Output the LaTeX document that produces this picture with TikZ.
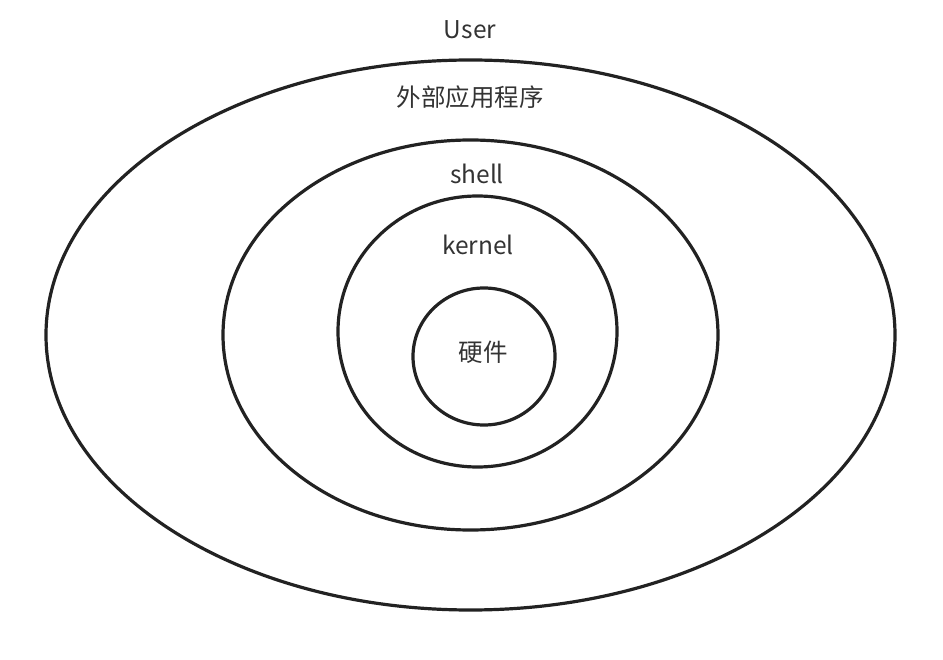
\documentclass[tikz,border=0pt]{standalone}
\usepackage{fontspec}
\setmainfont{Noto Sans CJK SC}
\usetikzlibrary{shapes.geometric}
\definecolor{ln}{HTML}{222222}
\definecolor{tx}{HTML}{333333}
\begin{document}
\begin{tikzpicture}[x=1pt,y=-1pt,
  ring/.style={draw=ln,line width=3.2pt,ellipse,inner sep=0pt},
  lbl/.style={text=tx,font=\fontsize{24.5}{28}\selectfont,inner sep=0pt,anchor=center}]
\useasboundingbox (0,0) rectangle (943,660);
\node[ring,minimum width=849pt,minimum height=550pt] (outer) at (470.5,335) {};
\node[ring,minimum width=495pt,minimum height=390pt] (shellring) at (470.5,335) {};
\node[ring,minimum width=279pt,minimum height=271pt] (kernelring) at (477.5,331.5) {};
\node[ring,minimum width=142pt,minimum height=137pt] (hw) at (484,356.5) {};
\node[lbl] (user) at (470,30) {User};
\node[lbl] (app) at (470,97) {外部应用程序};
\node[lbl] (shell) at (477,174) {shell};
\node[lbl] (kernel) at (478,245) {kernel};
\node[lbl] (hwl) at (483,352) {硬件};
\end{tikzpicture}
\end{document}
